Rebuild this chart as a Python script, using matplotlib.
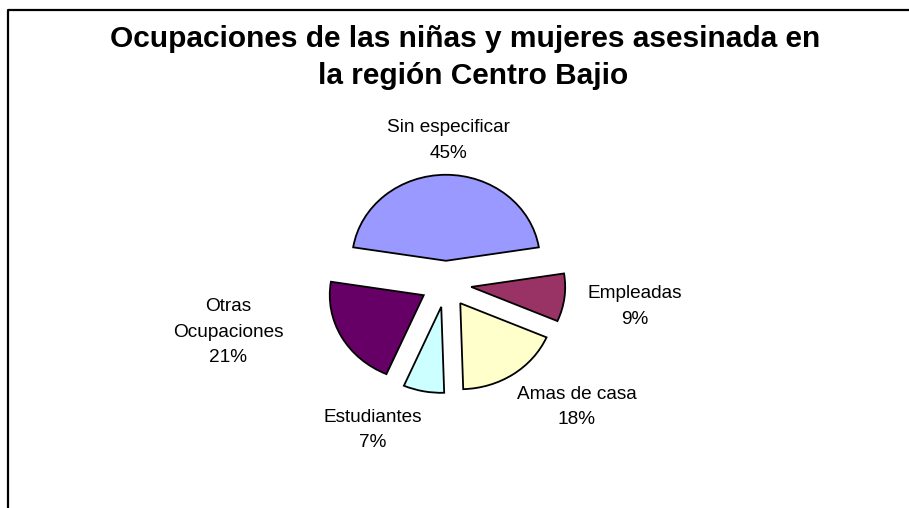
import matplotlib
matplotlib.use("Agg")
import matplotlib.pyplot as plt
from matplotlib.lines import Line2D

# ---- data ----
categories = ["Sin especificar", "Empleadas", "Amas de casa", "Estudiantes", "Otras\nOcupaciones"]
percentages = [45, 9, 18, 7, 21]
colors = ["#9999FF", "#993366", "#FFFFCC", "#CCFFFF", "#660066"]
title_lines = ["Ocupaciones de las niñas y mujeres asesinada en", "la región Centro Bajio"]

# ---- layout (pixel geometry of the figure) ----
W, H = 909, 508
cx, cy = 446, 284        # pie centre in pixels
rx, ry = 94, 86          # pie radii in pixels (slightly stretched)
explode_frac = 0.27
label_pos = [(0.03, 1.67), (2.01, -0.26), (1.39, -1.43), (-0.78, -1.70), (-2.32, -0.56)]

fig = plt.figure(figsize=(W / 100, H / 100), dpi=100)
fig.patch.set_facecolor("white")
ax = fig.add_axes([0, 0, 1, 1])

total = sum(percentages)
start = 90 + 360 * percentages[0] / total / 2
ax.pie(percentages, colors=colors, explode=[explode_frac] * len(percentages),
       startangle=start, counterclock=False, radius=1, center=(0, 0),
       wedgeprops=dict(edgecolor="black", linewidth=1.3), frame=True)
ax.set_xlim(-cx / rx, (W - cx) / rx)
ax.set_ylim(-(H - cy) / ry, cy / ry)
ax.set_aspect("auto")
ax.axis("off")

for cat, pct, (lx, ly) in zip(categories, percentages, label_pos):
    ax.text(lx, ly, f"{cat}\n{pct}%", ha="center", va="center", fontsize=13.7,
            family="Liberation Sans", linespacing=1.65, color="black")

# title
fig.text(465 / W, 1 - 47 / H, title_lines[0], ha="center", va="baseline",
         fontsize=21.5, fontweight="bold", family="Liberation Sans")
fig.text(473 / W, 1 - 84 / H, title_lines[1], ha="center", va="baseline",
         fontsize=21.5, fontweight="bold", family="Liberation Sans")

# chart frame (left and top edges visible)
fig.add_artist(Line2D([8 / W, 8 / W, 1.01], [-0.01, 1 - 10 / H, 1 - 10 / H],
                      transform=fig.transFigure, color="black", linewidth=1.6))

fig.savefig("out.png", dpi=100)
